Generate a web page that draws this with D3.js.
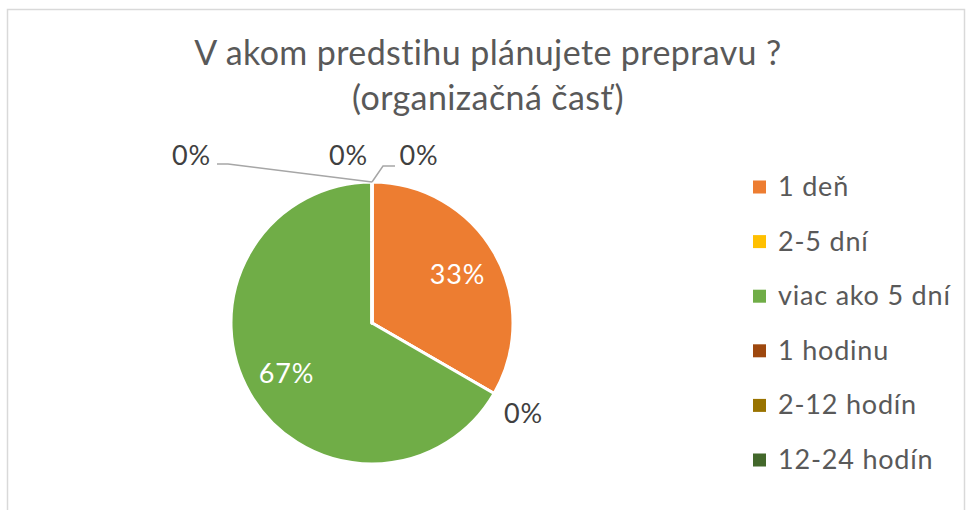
<!DOCTYPE html>
<html><head><meta charset="utf-8">
<script src="https://cdn.jsdelivr.net/npm/d3@7"></script>
<style>body{margin:0;background:#fff}svg{display:block}text{font-family:Lato,"Open Sans",sans-serif}</style>
</head><body>
<svg id="c" width="966" height="510"></svg>
<script>
const categories = ["1 deň","2-5 dní","viac ako 5 dní","1 hodinu","2-12 hodín","12-24 hodín"];
const values = [1,0,2,0,0,0];
const colors = ["#ED7D31","#FFC000","#70AD47","#9E480E","#997300","#43682B"];
const titleLines = ["V akom predstihu plánujete prepravu ?","(organizačná časť)"];

const svg = d3.select("#c");
svg.append("rect").attr("x",7.5).attr("y",9.5).attr("width",957).attr("height",520)
  .attr("fill","#fff").attr("stroke","#d9d9d9").attr("stroke-width",1.5);

svg.append("g").selectAll("text").data(titleLines).join("text")
  .attr("x",488).attr("y",(d,i)=>65+i*45).attr("text-anchor","middle")
  .attr("fill","#595959").attr("font-size",34).attr("letter-spacing",0.4).text(d=>d);

const cx=372, cy=323, r=141;
const total = d3.sum(values);
const pie = d3.pie().sort(null).value(d=>d)(values);
const arc = d3.arc().innerRadius(0).outerRadius(r);
const g = svg.append("g").attr("transform",`translate(${cx},${cy})`);
g.selectAll("path").data(pie).join("path").attr("d",arc)
  .attr("fill",(d,i)=>colors[i]).attr("stroke","#fff").attr("stroke-width",3).attr("stroke-linejoin","round");

const fmt = v => Math.round(v/total*100)+"%";
const LFS = 27;
const inner = d3.arc().innerRadius(r*0.7).outerRadius(r*0.7);
const outer = d3.arc().innerRadius(r+34).outerRadius(r+34);
pie.forEach((d,i)=>{
  if (d.value>0){
    const c = inner.centroid(d);
    g.append("text").attr("x",c[0]).attr("y",c[1]).attr("dy","0.4em").attr("text-anchor","middle")
      .attr("fill","#fff").attr("font-size",LFS).attr("letter-spacing",0.8).text(fmt(d.value));
  }
});
// zero label for 2-5 dní (between slices)
{
  const c = outer.centroid(pie[1]);
  g.append("text").attr("x",c[0]).attr("y",c[1]).attr("dy","0.45em").attr("text-anchor","middle")
    .attr("fill","#404040").attr("font-size",LFS).attr("letter-spacing",0.8).text(fmt(pie[1].value));
}
// zero labels at the top (1 hodinu, 2-12, 12-24)
const topY = -r;
const topLabels = [
  {i:3, x:-180.5, line:[[0,topY],[-144,-159],[-155,-159]]},
  {i:4, x:-23.5, line:null},
  {i:5, x:47, line:[[0,topY],[11,-157],[23,-157]]}
];
topLabels.forEach(t=>{
  if (t.line) g.append("path").attr("d",d3.line()(t.line)).attr("fill","none").attr("stroke","#a6a6a6").attr("stroke-width",1.5);
  g.append("text").attr("x",t.x).attr("y",-158).attr("text-anchor","middle")
   .attr("fill","#404040").attr("font-size",LFS).attr("letter-spacing",0.8).text(fmt(pie[t.i].value));
});

const leg = svg.append("g").attr("transform","translate(753,187)");
const row = leg.selectAll("g").data(categories).join("g").attr("transform",(d,i)=>`translate(0,${i*54.6})`);
row.append("rect").attr("x",0).attr("y",-6.5).attr("width",13).attr("height",13).attr("fill",(d,i)=>colors[i]);
row.append("text").attr("x",25).attr("y",9).attr("fill","#595959").attr("font-size",27).attr("letter-spacing",0.8).text(d=>d);
</script>
</body></html>
